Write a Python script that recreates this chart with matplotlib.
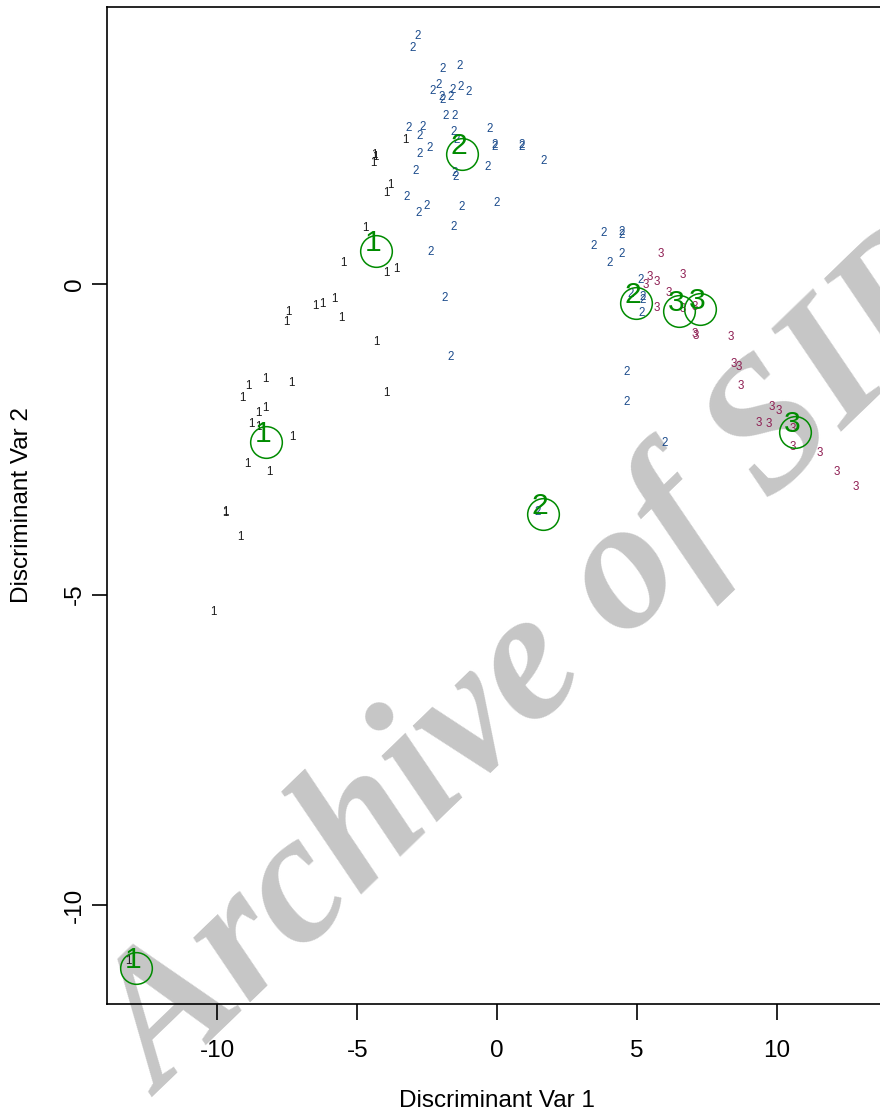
import matplotlib
matplotlib.use("Agg")
import matplotlib.pyplot as plt

# ---- data ----
g1_x = [-10.16, -9.19, -9.70, -9.70, -8.94, -8.16, -8.80, -8.52, -8.55, -8.30,
        -9.12, -8.91, -8.30, -7.37, -7.33, -7.48, -7.55, -6.48, -6.23, -5.83,
        -5.58, -4.33, -3.97, -5.51, -4.72, -3.97, -3.61, -3.97, -3.83, -4.40,
        -4.36, -4.44, -3.29, -13.20]
g1_y = [-5.28, -4.07, -3.69, -3.67, -2.90, -3.03, -2.25, -2.30, -2.08, -2.00,
        -1.84, -1.64, -1.53, -1.59, -2.46, -0.45, -0.61, -0.35, -0.32, -0.24,
        -0.55, -0.93, -1.76, 0.34, 0.90, 0.18, 0.24, 1.47, 1.59, 2.08,
        2.05, 1.95, 2.32, -10.89]

g2_x = [-2.83, -3.01, -1.93, -1.32, -2.29, -2.08, -1.97, -1.93, -1.65, -1.57,
        -1.29, -1.00, -1.82, -1.50, -3.15, -2.65, -2.75, -1.54, -0.25, -0.07,
        -0.07, 0.89, 0.89, 1.65, -2.40, -2.75, -1.43, -0.32, -2.90, -1.50,
        -1.47, 0.00, -3.22, -2.50, -2.79, -1.25, -1.54, -2.36, -1.86, -1.65,
        3.83, 4.44, 4.47, 3.47, 4.44, 4.04, 5.15, 4.79, 5.22, 5.22,
        5.19, 4.62, 4.62, 6.01, 1.47]
g2_y = [3.99, 3.80, 3.46, 3.51, 3.11, 3.20, 3.01, 2.96, 3.01, 3.12,
        3.17, 3.09, 2.71, 2.71, 2.51, 2.53, 2.38, 2.45, 2.50, 2.24,
        2.21, 2.24, 2.21, 1.98, 2.19, 2.09, 2.32, 1.88, 1.82, 1.79,
        1.72, 1.30, 1.40, 1.26, 1.14, 1.24, 0.92, 0.52, -0.23, -1.18,
        0.82, 0.84, 0.79, 0.61, 0.48, 0.34, 0.06, -0.16, -0.21, -0.26,
        -0.47, -1.42, -1.90, -2.56, -3.67]

g3_x = [5.87, 6.65, 5.47, 5.72, 5.33, 6.15, 5.72, 7.08, 6.65, 7.08,
        7.12, 8.37, 8.48, 8.66, 8.73, 9.84, 10.09, 9.37, 9.73, 10.59,
        10.59, 11.56, 12.16, 12.84]
g3_y = [0.48, 0.14, 0.11, 0.03, -0.02, -0.14, -0.39, -0.37, -0.40, -0.81,
        -0.84, -0.85, -1.29, -1.34, -1.64, -1.98, -2.05, -2.24, -2.25, -2.33,
        -2.62, -2.72, -3.03, -3.27]

hl_x = [-8.26, -4.33, -12.92, -1.25, 1.65, 4.97, 6.51, 7.26, 10.66]
hl_y = [-2.54, 0.53, -11.01, 2.09, -3.70, -0.31, -0.43, -0.40, -2.38]
hl_lab = ["1", "1", "1", "2", "2", "2", "3", "3", "3"]

x_ticks = [-10, -5, 0, 5, 10]
y_ticks = [-10, -5, 0]
x_label = "Discriminant Var 1"
y_label = "Discriminant Var 2"
watermark = "Archive of SID"

col1, col2, col3, colg = "#1a1a1a", "#1b4b8c", "#8e1d52", "#008B00"

plt.rcParams["font.family"] = ["Liberation Sans", "DejaVu Sans"]

fig = plt.figure(figsize=(8.8, 11.16), dpi=100)
fig.patch.set_facecolor("white")
W, H = 880, 1116
ax = fig.add_axes([107 / W, 1 - 1004 / H, (887 - 107) / W, (1004 - 7) / H])
ax.patch.set_alpha(0)
ax.set_xlim(-13.95, 13.95)
ax.set_ylim(-11.59, 4.46)

# watermark
ax.text(162 / W, 1 - 1097 / H, watermark, transform=fig.transFigure,
        rotation=44, rotation_mode="anchor", ha="left", va="baseline",
        fontsize=134, family="Liberation Serif", weight="bold", style="italic",
        color="#c6c6c6", zorder=0.5, clip_on=False)

for xs, ys, lab, c in [(g1_x, g1_y, "1", col1), (g2_x, g2_y, "2", col2), (g3_x, g3_y, "3", col3)]:
    for x, y in zip(xs, ys):
        ax.text(x, y, lab, color=c, fontsize=8.3, ha="center", va="center", zorder=3)

ax.plot(hl_x, hl_y, linestyle="none", marker="o", markersize=22.8,
        markerfacecolor="none", markeredgecolor=colg, markeredgewidth=1.1, zorder=4)
for x, y, lab in zip(hl_x, hl_y, hl_lab):
    ax.annotate(lab, (x, y), xytext=(-2.2, 5.8), textcoords="offset points",
                color=colg, fontsize=21.7, ha="center", va="center", zorder=4)

for s in ax.spines.values():
    s.set_linewidth(1.2)
    s.set_color("black")

ax.set_xticks(x_ticks)
ax.set_xticklabels([str(t) for t in x_ticks])
ax.set_yticks(y_ticks)
ax.set_yticklabels([str(t) for t in y_ticks])
ax.tick_params(axis="x", length=11.5, width=1.2, pad=14.5, labelsize=17.5)
ax.tick_params(axis="y", length=10.8, width=1.2, pad=4.5, labelsize=17.5)
for lbl in ax.get_yticklabels():
    lbl.set_rotation(90)
    lbl.set_va("center")
    lbl.set_ha("right")

ax.set_xlabel(x_label, fontsize=17.5)
ax.set_ylabel(y_label, fontsize=17.5)
ax.xaxis.set_label_coords(0.5, -(1101 - 1004) / 997)
ax.xaxis.label.set_va("center")
ax.yaxis.set_label_coords(-(107 - 22) / 780, 0.5)
ax.yaxis.label.set_va("center")
ax.yaxis.label.set_ha("center")

fig.savefig("out.png", dpi=100)
